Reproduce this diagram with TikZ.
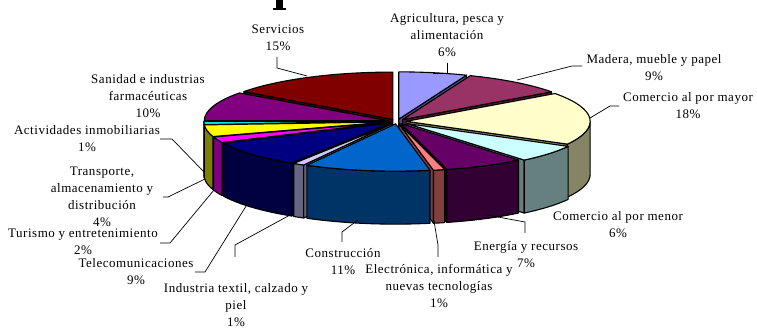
\documentclass[tikz,border=0pt]{standalone}
\usepackage{fontspec}
\setmainfont{Liberation Serif}[LetterSpace=4]
\usetikzlibrary{calc}
\definecolor{agT}{HTML}{9999FF}\definecolor{agS}{HTML}{4C4C80}
\definecolor{maT}{HTML}{993366}\definecolor{maS}{HTML}{4C1933}
\definecolor{cmT}{HTML}{FFFFCC}\definecolor{cmS}{HTML}{858566}
\definecolor{cnT}{HTML}{CCFFFF}\definecolor{cnS}{HTML}{668080}
\definecolor{enT}{HTML}{660066}\definecolor{enS}{HTML}{330033}
\definecolor{elT}{HTML}{FF8080}\definecolor{elS}{HTML}{804040}
\definecolor{coT}{HTML}{0066CC}\definecolor{coS}{HTML}{003366}
\definecolor{txT}{HTML}{CCCCFF}\definecolor{txS}{HTML}{666680}
\definecolor{teT}{HTML}{000080}\definecolor{teS}{HTML}{000040}
\definecolor{tuT}{HTML}{FF00FF}\definecolor{tuS}{HTML}{800080}
\definecolor{trT}{HTML}{FFFF00}\definecolor{trS}{HTML}{808000}
\definecolor{inT}{HTML}{00FFFF}\definecolor{inS}{HTML}{008080}
\definecolor{saT}{HTML}{800080}\definecolor{saS}{HTML}{400040}
\definecolor{seT}{HTML}{800000}\definecolor{seS}{HTML}{400000}
\tikzset{
  lbl/.style={anchor=north, inner sep=0pt, align=center, font=\fontsize{13}{17}\selectfont},
  leader/.style={draw=black, line width=0.7pt},
  pieedge/.style={draw=black, line width=1.1pt, line join=round}
}
\newcommand\pieslice[5]{%
  \pgfmathsetmacro\pbis{(#1+#2)/2}%
  \pgfmathsetmacro\pox{397+#5*184*cos(\pbis)}%
  \pgfmathsetmacro\poy{206.5+#5*47.3*sin(\pbis)}%
  \coordinate (O) at (\pox,\poy);%
  \coordinate (Ob) at (\pox,\poy-53);%
  \coordinate (A) at ($(O)+(#1:184 and 47.3)$);%
  \coordinate (B) at ($(O)+(#2:184 and 47.3)$);%
  \pgfmathtruncatemacro\pvs{cos(#1)<0}%
  \ifnum\pvs=1 \filldraw[pieedge, fill=#4] (O) -- (A) -- ++(0,-53) -- (Ob) -- cycle;\fi
  \pgfmathtruncatemacro\pve{cos(#2)>0}%
  \ifnum\pve=1 \filldraw[pieedge, fill=#4] (O) -- (B) -- ++(0,-53) -- (Ob) -- cycle;\fi
  \pgfmathsetmacro\plo{max(#2,-180)}%
  \pgfmathsetmacro\phigh{min(#1,0)}%
  \pgfmathtruncatemacro\phw{\phigh>\plo}%
  \ifnum\phw=1 \filldraw[pieedge, fill=#4] ($(O)+(\phigh:184 and 47.3)$) arc[start angle=\phigh, end angle=\plo, x radius=184, y radius=47.3] -- ++(0,-53) arc[start angle=\plo, end angle=\phigh, x radius=184, y radius=47.3] -- cycle;\fi
  \filldraw[pieedge, fill=#3] (O) -- (A) arc[start angle=#1, end angle=#2, x radius=184, y radius=47.3] -- cycle;
}
\begin{document}
\begin{tikzpicture}[x=1pt,y=1pt]
\useasboundingbox (0,0) rectangle (757,328);
\clip (0,0) rectangle (757,328);
\fill[white] (0,0) rectangle (757,328);
% fragment of the cut-off title
\fill[black] (276,328) rectangle (283,320);
\fill[black] (273,320) rectangle (286,318);
% pie slices, back to front
\pieslice{90}{68.4}{agT}{agS}{0.05}
\pieslice{-216}{-270}{seT}{seS}{0.05}
\pieslice{68.4}{36}{maT}{maS}{0.05}
\pieslice{-180}{-216}{saT}{saS}{0.05}
\pieslice{36}{-28.8}{cmT}{cmS}{0.05}
\pieslice{-176.4}{-180}{inT}{inS}{0.05}
\pieslice{-162}{-176.4}{trT}{trS}{0.05}
\pieslice{-154.8}{-162}{tuT}{tuS}{0.05}
\pieslice{-28.8}{-50.4}{cnT}{cnS}{0.07}
\pieslice{-122.4}{-154.8}{teT}{teS}{0.05}
\pieslice{-118.8}{-122.4}{txT}{txS}{0.05}
\pieslice{-50.4}{-75.6}{enT}{enS}{0.05}
\pieslice{-75.6}{-79.2}{elT}{elS}{0.05}
\pieslice{-79.2}{-118.8}{coT}{coS}{0.05}
% labels
\node[lbl] (lse) at (278,306.9) {\strut Servicios\\15\%};
\node[lbl] (lag) at (447,317.9) {\strut Agricultura, pesca y\\alimentación\\6\%};
\node[lbl] (lma) at (654,276.9) {\strut Madera, mueble y papel\\9\%};
\node[lbl] (lcm) at (688,238.9) {\strut Comercio al por mayor\\18\%};
\node[lbl] (lcn) at (618,119.9) {\strut Comercio al por menor\\6\%};
\node[lbl] (len) at (526,89.9) {\strut Energía y recursos\\7\%};
\node[lbl] (lel) at (439,66.9) {\strut Electrónica, informática y\\nuevas tecnologías\\1\%};
\node[lbl] (lco) at (343,82.9) {\strut Construcción\\11\%};
\node[lbl] (ltx) at (236,47.9) {\strut Industria textil, calzado y\\piel\\1\%};
\node[lbl] (lte) at (136,72.9) {\strut Telecomunicaciones\\9\%};
\node[lbl] (ltu) at (83,102.9) {\strut Turismo y entretenimiento\\2\%};
\node[lbl] (ltr) at (102,164.9) {\strut Transporte,\\almacenamiento y\\distribución\\4\%};
\node[lbl] (lin) at (87,205.9) {\strut Actividades inmobiliarias\\1\%};
\node[lbl] (lsa) at (148,256.9) {\strut Sanidad e industrias\\farmacéuticas\\10\%};
% leader lines
\coordinate (se1) at (277,271); \coordinate (se2) at (277,260); \coordinate (se3) at (307,252);
\coordinate (ag1) at (447,265); \coordinate (ag2) at (447,255); \coordinate (ag3) at (433,255);
\coordinate (ma1) at (582,262); \coordinate (ma2) at (572,262); \coordinate (ma3) at (517,248);
\coordinate (cm1) at (619,222); \coordinate (cm2) at (610,222); \coordinate (cm3) at (590,210);
\coordinate (en1) at (525,95);  \coordinate (en2) at (525,106); \coordinate (en3) at (487,113);
\coordinate (el1) at (438,71);  \coordinate (el2) at (438,83);  \coordinate (el3) at (434,107);
\coordinate (co1) at (342,86);  \coordinate (co2) at (342,96);  \coordinate (co3) at (358,108);
\coordinate (tx1) at (235,71);  \coordinate (tx2) at (235,83);  \coordinate (tx3) at (290,113);
\coordinate (te1) at (195,56);  \coordinate (te2) at (205,56);  \coordinate (te3) at (248,125);
\coordinate (tu1) at (160,85);  \coordinate (tu2) at (170,85);  \coordinate (tu3) at (214,138);
\coordinate (tr1) at (163,131); \coordinate (tr2) at (168,131); \coordinate (tr3) at (205,149);
\coordinate (in1) at (160,189); \coordinate (in2) at (172,189); \coordinate (in3) at (204,156);
\foreach \k in {se,ag,ma,cm,en,el,co,tx,te,tu,tr,in}
  \draw[leader] (\k1) -- (\k2) -- (\k3);
\end{tikzpicture}
\end{document}
